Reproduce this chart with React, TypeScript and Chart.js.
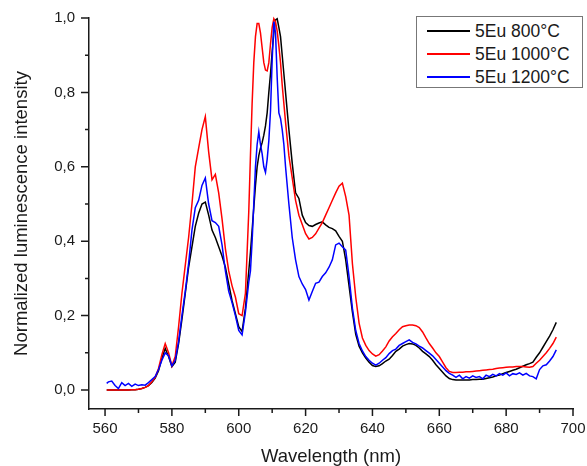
import React, { useEffect, useRef } from 'react';
import { Chart, registerables } from 'chart.js';

Chart.register(...registerables);

// ---------- data ----------
const WAVELENGTHS = [
  560.5, 561, 562, 563, 564, 565, 566, 567, 568, 569, 570,
  571, 572, 573, 574, 575, 576, 577, 578, 579, 580,
  581, 582, 583, 584, 585, 586, 587, 588, 589, 590,
  591, 592, 593, 594, 595, 596, 597, 598, 599, 600,
  601, 602,
  603, 603.5, 604, 604.5, 605, 605.5, 606, 606.5, 607, 607.5,
  608, 608.5, 609, 609.5, 610, 610.5, 611, 611.5, 612, 612.5,
  613, 613.5, 614,
  615, 616, 617, 618, 619, 620, 621, 622, 623, 624,
  625, 626, 627, 628, 629, 630, 631, 632, 633, 634,
  635, 636, 637, 638, 639, 640, 641, 642, 643, 644,
  645, 646, 647, 648, 649, 650, 651, 652, 653, 654,
  655, 656, 657, 658, 659, 660, 661, 662, 663, 664,
  665, 666, 667, 668, 669, 670, 671, 672, 673, 674,
  675, 676, 677, 678, 679, 680, 681, 682, 683, 684,
  685, 686, 687, 688, 689, 690, 691, 692, 693, 694, 695,
];

const EU_800 = [
  0, 0, 0, 0, 0, 0, 0, 0, 0.001, 0.001, 0.002,
  0.004, 0.007, 0.012, 0.02, 0.032, 0.052, 0.085, 0.112, 0.09, 0.063,
  0.075, 0.125, 0.19, 0.26, 0.33, 0.385, 0.44, 0.475, 0.5, 0.505,
  0.47, 0.43, 0.41, 0.385, 0.36, 0.33, 0.285, 0.24, 0.205, 0.17,
  0.157, 0.22,
  0.32, 0.37, 0.43, 0.49, 0.55, 0.6, 0.63, 0.65, 0.665, 0.685,
  0.71, 0.745, 0.8, 0.85, 0.91, 0.96, 0.995, 0.998, 0.975, 0.95,
  0.9, 0.85, 0.8,
  0.7, 0.61, 0.53, 0.515, 0.47, 0.45, 0.442, 0.44, 0.445, 0.449,
  0.452, 0.444, 0.437, 0.434, 0.428, 0.413, 0.4, 0.35, 0.28, 0.21,
  0.15, 0.118, 0.1, 0.086, 0.075, 0.066, 0.063, 0.065, 0.071, 0.078,
  0.083, 0.093, 0.104, 0.11, 0.118, 0.122, 0.125, 0.124, 0.12, 0.113,
  0.104, 0.097, 0.09, 0.08, 0.068, 0.058, 0.048, 0.038, 0.031, 0.028,
  0.027, 0.027, 0.027, 0.027, 0.027, 0.028, 0.028, 0.029, 0.029, 0.031,
  0.033, 0.035, 0.038, 0.04, 0.044, 0.047, 0.05, 0.053, 0.056, 0.06,
  0.064, 0.068, 0.071, 0.075, 0.088, 0.1, 0.115, 0.13, 0.145, 0.162, 0.182,
];

const EU_1000 = [
  0, 0, 0, 0, 0, 0, 0, 0, 0.001, 0.001, 0.002,
  0.004, 0.007, 0.012, 0.022, 0.034, 0.058, 0.095, 0.125, 0.1, 0.065,
  0.09, 0.17, 0.26, 0.335, 0.41, 0.5, 0.6, 0.65, 0.7, 0.735,
  0.64, 0.565, 0.58, 0.53, 0.46, 0.38, 0.32, 0.28, 0.25, 0.205,
  0.2, 0.26,
  0.48, 0.63, 0.77, 0.88, 0.95, 0.985, 0.985, 0.96, 0.92, 0.88,
  0.86, 0.858, 0.88, 0.93, 0.975, 0.998, 0.99, 0.965, 0.925, 0.88,
  0.82, 0.77, 0.72,
  0.63, 0.57, 0.51, 0.47, 0.445, 0.42, 0.406, 0.41, 0.42, 0.435,
  0.45, 0.47, 0.49, 0.51, 0.53, 0.548, 0.556, 0.52, 0.47, 0.34,
  0.25, 0.18, 0.14, 0.12, 0.106, 0.097, 0.091, 0.095, 0.105, 0.116,
  0.132, 0.143, 0.152, 0.162, 0.17, 0.173, 0.175, 0.175, 0.173, 0.168,
  0.156, 0.14, 0.125, 0.113, 0.1, 0.09, 0.075, 0.06, 0.05, 0.047,
  0.047, 0.048, 0.048, 0.049, 0.049, 0.05, 0.051, 0.052, 0.053, 0.054,
  0.055, 0.056, 0.058, 0.059, 0.06, 0.061, 0.062, 0.062, 0.063, 0.063,
  0.063, 0.062, 0.061, 0.063, 0.072, 0.08, 0.09, 0.1, 0.112, 0.125, 0.142,
];

const EU_1200 = [
  0.018, 0.022, 0.024, 0.012, 0.004, 0.02, 0.012, 0.018, 0.01, 0.016, 0.012,
  0.014, 0.013, 0.02, 0.028, 0.036, 0.055, 0.08, 0.1, 0.092, 0.065,
  0.08, 0.13, 0.2, 0.265, 0.34, 0.43, 0.49, 0.51, 0.55, 0.57,
  0.5, 0.455, 0.45, 0.44, 0.39, 0.32, 0.265, 0.235, 0.2, 0.16,
  0.148, 0.21,
  0.29, 0.32, 0.4, 0.5, 0.6, 0.66, 0.694, 0.66, 0.635, 0.6,
  0.585, 0.62, 0.67, 0.75, 0.887, 0.99, 0.96, 0.84, 0.745, 0.73,
  0.7, 0.66, 0.6,
  0.5, 0.41, 0.35, 0.305, 0.285, 0.27, 0.242, 0.265, 0.287, 0.29,
  0.305, 0.315, 0.33, 0.35, 0.39, 0.395, 0.385, 0.376, 0.305, 0.22,
  0.16, 0.125, 0.105, 0.09, 0.08, 0.072, 0.067, 0.072, 0.08, 0.087,
  0.098, 0.106, 0.11, 0.12, 0.125, 0.13, 0.135, 0.128, 0.124, 0.118,
  0.113, 0.106, 0.099, 0.092, 0.082, 0.072, 0.062, 0.052, 0.045, 0.04,
  0.034, 0.04, 0.03, 0.036, 0.032, 0.038, 0.034, 0.036, 0.03, 0.04,
  0.036, 0.042, 0.038, 0.044, 0.04, 0.046, 0.038, 0.044, 0.042, 0.046,
  0.04, 0.045, 0.038, 0.036, 0.03, 0.055, 0.065, 0.068, 0.078, 0.09, 0.108,
];

const SERIES_LABELS = ['5Eu 800°C', '5Eu 1000°C', '5Eu 1200°C'];
const SERIES_COLORS = ['#000000', '#ff0000', '#0000ff'];

const X_MAJOR = [560, 580, 600, 620, 640, 660, 680, 700];
const X_MINOR = [570, 590, 610, 630, 650, 670, 690];
const Y_MAJOR = [0, 0.2, 0.4, 0.6, 0.8, 1.0];
const Y_MINOR = [0.1, 0.3, 0.5, 0.7, 0.9];

const X_TITLE = 'Wavelength (nm)';
const Y_TITLE = 'Normalized luminescence intensity';

const FONT = '"Liberation Sans", Arial, Helvetica, sans-serif';
const AXIS_COLOR = '#1a1a1a';

const tickMarks = {
  id: 'tickMarks',
  afterDraw(chart: any) {
    const { ctx, scales, chartArea } = chart;
    const x = scales.x;
    const y = scales.y;
    ctx.save();
    ctx.strokeStyle = AXIS_COLOR;
    ctx.lineWidth = 1.5;
    ctx.beginPath();
    const b = chartArea.bottom;
    const l = chartArea.left;
    X_MAJOR.forEach((v) => {
      const p = x.getPixelForValue(v);
      ctx.moveTo(p, b);
      ctx.lineTo(p, b + 7);
    });
    X_MINOR.forEach((v) => {
      const p = x.getPixelForValue(v);
      ctx.moveTo(p, b);
      ctx.lineTo(p, b + 4);
    });
    Y_MAJOR.forEach((v) => {
      const p = y.getPixelForValue(v);
      ctx.moveTo(l, p);
      ctx.lineTo(l - 8, p);
    });
    Y_MINOR.forEach((v) => {
      const p = y.getPixelForValue(v);
      ctx.moveTo(l, p);
      ctx.lineTo(l - 4, p);
    });
    ctx.stroke();
    ctx.restore();
  },
};

export default function App() {
  const canvasRef = useRef<HTMLCanvasElement | null>(null);

  useEffect(() => {
    if (!canvasRef.current) return;
    const seriesValues = [EU_800, EU_1000, EU_1200];
    const chart = new Chart(canvasRef.current, {
      type: 'line',
      data: {
        datasets: seriesValues.map((vals, i) => ({
          label: SERIES_LABELS[i],
          data: WAVELENGTHS.map((w, j) => ({ x: w, y: vals[j] })),
          borderColor: SERIES_COLORS[i],
          borderWidth: 1.5,
          pointRadius: 0,
          tension: 0,
          fill: false,
          clip: 3,
          order: 3 - i,
        })),
      },
      options: {
        responsive: false,
        animation: false,
        maintainAspectRatio: false,
        layout: { padding: { top: 18, right: 14, bottom: 0, left: 0 } },
        plugins: {
          legend: { display: false },
          tooltip: { enabled: false },
        },
        scales: {
          x: {
            type: 'linear',
            min: 555.2,
            max: 700,
            afterBuildTicks: (s: any) => {
              s.ticks = X_MAJOR.map((v) => ({ value: v }));
            },
            afterFit: (s: any) => {
              s.height = 57;
              s.paddingLeft = 0;
              s.paddingRight = 0;
            },
            grid: { display: true, drawOnChartArea: false, drawTicks: false },
            border: { display: true, color: AXIS_COLOR, width: 1.5 },
            ticks: {
              padding: 11,
              color: '#1a1a1a',
              font: { family: FONT, size: 15 },
              maxRotation: 0,
              autoSkip: false,
              callback: (v: any) => String(v),
            },
            title: {
              display: true,
              text: X_TITLE,
              color: '#1a1a1a',
              font: { family: FONT, size: 18.5, lineHeight: 1 },
              padding: { top: 0, bottom: 0 },
            },
          },
          y: {
            type: 'linear',
            min: -0.051,
            max: 1.0,
            afterBuildTicks: (s: any) => {
              s.ticks = Y_MAJOR.map((v) => ({ value: v }));
            },
            afterFit: (s: any) => {
              s.width = 89;
              s.paddingTop = 0;
              s.paddingBottom = 0;
            },
            grid: { display: true, drawOnChartArea: false, drawTicks: false },
            border: { display: true, color: AXIS_COLOR, width: 1.5 },
            ticks: {
              padding: 14,
              color: '#1a1a1a',
              font: { family: FONT, size: 15 },
              autoSkip: false,
              callback: (v: any) => Number(v).toFixed(1).replace('.', ','),
            },
            title: {
              display: true,
              text: Y_TITLE,
              color: '#1a1a1a',
              font: { family: FONT, size: 18.5, lineHeight: 1 },
              padding: { top: 13, bottom: 0 },
            },
          },
        },
      },
      plugins: [tickMarks],
    });
    return () => chart.destroy();
  }, []);

  const rowCenters = [31, 53.5, 77];

  return (
    <div
      style={{
        position: 'absolute',
        left: 0,
        top: 0,
        width: 587,
        height: 466,
        background: '#ffffff',
      }}
    >
      <canvas ref={canvasRef} width={587} height={466} style={{ display: 'block' }} />
      <div
        style={{
          position: 'absolute',
          left: 416,
          top: 16,
          width: 167,
          height: 72,
          boxSizing: 'border-box',
          border: '1px solid #777777',
          background: '#ffffff',
        }}
      >
        {SERIES_LABELS.map((lab, i) => (
          <React.Fragment key={lab}>
            <div
              style={{
                position: 'absolute',
                left: 10,
                top: rowCenters[i] - 17 - 1,
                width: 43,
                height: 2,
                background: SERIES_COLORS[i],
              }}
            />
            <div
              style={{
                position: 'absolute',
                left: 58,
                top: rowCenters[i] - 17 - 11,
                height: 22,
                lineHeight: '22px',
                whiteSpace: 'nowrap',
                fontFamily: FONT,
                fontSize: 17.5,
                color: '#1a1a1a',
              }}
            >
              {lab}
            </div>
          </React.Fragment>
        ))}
      </div>
    </div>
  );
}
